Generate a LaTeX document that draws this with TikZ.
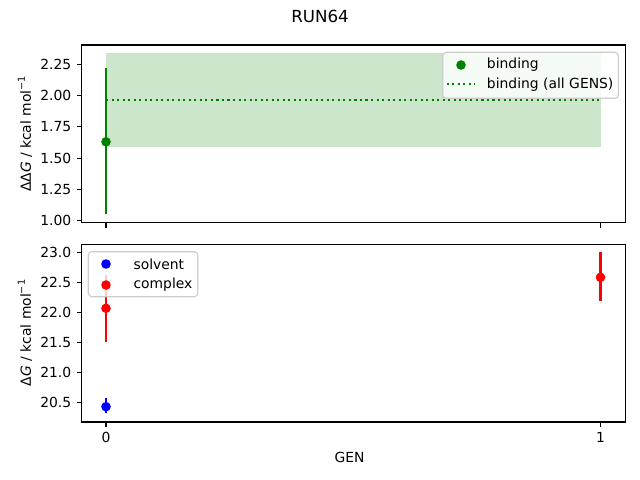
\documentclass[tikz,border=0pt]{standalone}
\usepackage{fontspec}
\setmainfont{DejaVu Sans}
\definecolor{mgreen}{HTML}{008000}
\definecolor{mfill}{HTML}{CCE6CC}
\definecolor{mblue}{HTML}{0000FF}
\definecolor{mred}{HTML}{FF0000}
\newcommand{\supm}{\raisebox{0.42em}{\fontsize{7}{7}\selectfont −1}}
\begin{document}
\begin{tikzpicture}[x=0.72pt,y=-0.72pt,
  axisframe/.style={draw=black,line width=0.8pt},
  tickmark/.style={draw=black,line width=0.8pt},
  ticklab/.style={font=\fontsize{10}{12}\selectfont,inner sep=0pt},
  ylab/.style={ticklab,anchor=east},
  xlab/.style={ticklab,anchor=center},
  errbar/.style={line width=1.5pt}]
\def\mr{4.8}
\useasboundingbox (0,0) rectangle (640,480);
\fill[white] (0,0) rectangle (640,480);
% title
\node[font=\fontsize{12}{14}\selectfont,inner sep=0pt] (title) at (320,16.5) {RUN64};
% ================= TOP AXES =================
\fill[mfill] (106,53.3) rectangle (600.5,146.7);
\draw[mgreen,line width=1.5pt,dash pattern=on 1.5pt off 2.475pt] (106,100) -- (600.5,100);
\draw[mgreen,errbar] (106,214.3) -- (106,68.3);
\fill[mgreen] (106,141.8) circle (\mr);
\draw[axisframe] (81.5,45) rectangle (625.7,222.7);
% y ticks top: y(v)=220.7-(v-1)*125.1
\foreach \v/\lab [count=\i] in {1.00/1.00,1.25/1.25,1.50/1.50,1.75/1.75,2.00/2.00,2.25/2.25}{
  \draw[tickmark] (81.5,{220.7-(\v-1)*125.1}) -- ++(-4.86,0);
  \node[ylab] (ty\i) at (71.5,{220.7-(\v-1)*125.1}) {\lab};
}
% x ticks top (no labels)
\draw[tickmark] (106,222.7) -- ++(0,4.86);
\draw[tickmark] (600.5,222.7) -- ++(0,4.86);
\node[font=\fontsize{10}{12}\selectfont,rotate=90,inner sep=0pt] (ylabtop) at (25,134) {ΔΔ{\itshape G} / kcal mol\supm};
% legend top
\draw[rounded corners=2.5pt,fill=white,fill opacity=0.8,draw=black!20,line width=0.8pt] (442.7,52.3) rectangle (618.3,98.3);
\fill[mgreen] (461,65) circle (\mr);
\node[ticklab,anchor=west] (lgb) at (486.7,65) {binding};
\draw[mgreen,line width=1.5pt,dash pattern=on 1.5pt off 2.475pt] (446.7,84.3) -- (475,84.3);
\node[ticklab,anchor=west] (lgall) at (486.7,84.3) {binding (all GENS)};
% ================= BOTTOM AXES =================
% y(v)=402.7-(v-20.5)*60.16
\draw[mblue,errbar] (106,413.3) -- (106,398.3);
\fill[mblue] (106,406.7) circle (\mr);
\draw[mred,errbar] (106,341.7) -- (106,274.9);
\fill[mred] (106,308.3) circle (\mr);
\draw[mred,errbar] (600.5,300.7) -- (600.5,252.3);
\fill[mred] (600.5,277.3) circle (\mr);
\draw[axisframe] (81.5,244.3) rectangle (625.7,422);
\foreach \v/\lab [count=\i] in {20.5/20.5,21.0/21.0,21.5/21.5,22.0/22.0,22.5/22.5,23.0/23.0}{
  \draw[tickmark] (81.5,{402.7-(\v-20.5)*60.16}) -- ++(-4.86,0);
  \node[ylab] (by\i) at (71.5,{402.7-(\v-20.5)*60.16}) {\lab};
}
\draw[tickmark] (106,422) -- ++(0,4.86);
\draw[tickmark] (600.5,422) -- ++(0,4.86);
\node[xlab] (bx0) at (106,437.5) {0};
\node[xlab] (bx1) at (600.5,437.5) {1};
\node[ticklab] (xlabel) at (349.5,457.5) {GEN};
\node[font=\fontsize{10}{12}\selectfont,rotate=90,inner sep=0pt] (ylabbot) at (25,333) {Δ{\itshape G} / kcal mol\supm};
% legend bottom
\draw[rounded corners=2.5pt,fill=white,fill opacity=0.8,draw=black!20,line width=0.8pt] (88.3,251.7) rectangle (197.7,296.7);
\fill[mblue] (106,264) circle (\mr);
\node[ticklab,anchor=west] (lgs) at (133.3,264) {solvent};
\fill[mred] (106,285) circle (\mr);
\node[ticklab,anchor=west] (lgc) at (133.3,285) {complex};
\end{tikzpicture}
\end{document}
